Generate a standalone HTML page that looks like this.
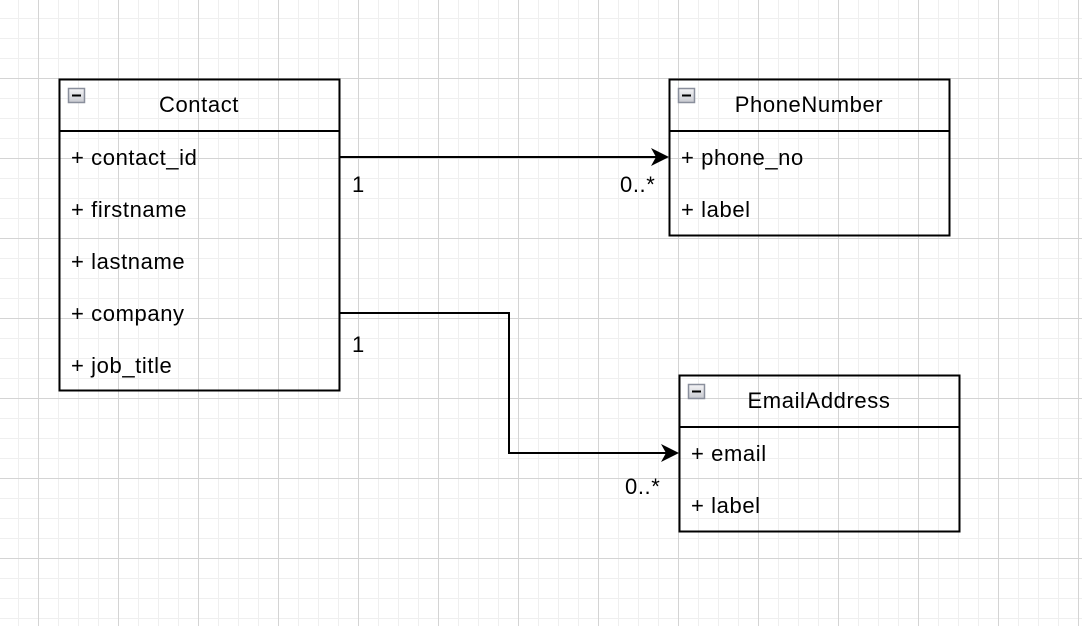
<!DOCTYPE html>
<html><head><meta charset="utf-8"><style>
html,body{margin:0;padding:0;background:#fff;}
#bg{position:absolute;left:0;top:0;width:1082px;height:626px;
background-image:
linear-gradient(to bottom,#d4d4d4 1px,transparent 1px),
linear-gradient(to right,#d4d4d4 1px,transparent 1px),
linear-gradient(to bottom,#efefef 1px,transparent 1px),
linear-gradient(to right,#efefef 1px,transparent 1px);
background-size:80px 80px,80px 80px,20px 20px,20px 20px;
background-position:0 78px,38px 0,0 18px,18px 0;}
svg{position:absolute;left:0;top:0;display:block;}
text{font-family:"Liberation Sans",Arial,sans-serif;font-size:22px;letter-spacing:0.6px;fill:#000;}
</style></head><body>
<div id="bg"></div>
<svg width="1082" height="626" viewBox="0 0 1082 626" xmlns="http://www.w3.org/2000/svg">
<defs>
<linearGradient id="ig" x1="0" y1="0" x2="0" y2="1"><stop offset="0" stop-color="#f4f4f6"/><stop offset="1" stop-color="#c8cad0"/></linearGradient>
</defs>

<!-- Contact -->
<rect x="59.5" y="79.5" width="280" height="311" fill="none" stroke="#000" stroke-width="2"/>
<line x1="59" y1="131" x2="340" y2="131" stroke="#000" stroke-width="2"/>
<rect x="68.5" y="88.5" width="16" height="14" fill="url(#ig)" stroke="#8a8f9c" stroke-width="1.5"/>
<line x1="72" y1="95.5" x2="81" y2="95.5" stroke="#000" stroke-width="2"/>
<text x="199" y="112" text-anchor="middle">Contact</text>
<text x="71" y="165">+ contact_id</text>
<text x="71" y="217">+ firstname</text>
<text x="71" y="269">+ lastname</text>
<text x="71" y="321">+ company</text>
<text x="71" y="373">+ job_title</text>

<!-- PhoneNumber -->
<rect x="669.5" y="79.5" width="280" height="156" fill="none" stroke="#000" stroke-width="2"/>
<line x1="669" y1="131" x2="950" y2="131" stroke="#000" stroke-width="2"/>
<rect x="678.5" y="88.5" width="16" height="14" fill="url(#ig)" stroke="#8a8f9c" stroke-width="1.5"/>
<line x1="682" y1="95.5" x2="691" y2="95.5" stroke="#000" stroke-width="2"/>
<text x="809" y="112" text-anchor="middle">PhoneNumber</text>
<text x="681" y="165">+ phone_no</text>
<text x="681" y="217">+ label</text>

<!-- EmailAddress -->
<rect x="679.5" y="375.5" width="280" height="156" fill="none" stroke="#000" stroke-width="2"/>
<line x1="679" y1="427" x2="960" y2="427" stroke="#000" stroke-width="2"/>
<rect x="688.5" y="384.5" width="16" height="14" fill="url(#ig)" stroke="#8a8f9c" stroke-width="1.5"/>
<line x1="692" y1="391.5" x2="701" y2="391.5" stroke="#000" stroke-width="2"/>
<text x="819" y="408" text-anchor="middle">EmailAddress</text>
<text x="691" y="461">+ email</text>
<text x="691" y="513">+ label</text>

<!-- connectors -->
<path d="M340 157H660" stroke="#000" stroke-width="2" fill="none"/>
<path d="M669 157L651 148L656 157L651 166Z" fill="#000"/>
<path d="M340 313H509V453H670" stroke="#000" stroke-width="2" fill="none"/>
<path d="M679 453L661 444L666 453L661 462Z" fill="#000"/>

<text x="352" y="192">1</text>
<text x="620" y="192">0..*</text>
<text x="352" y="352">1</text>
<text x="625" y="494">0..*</text>
</svg>
</body></html>
